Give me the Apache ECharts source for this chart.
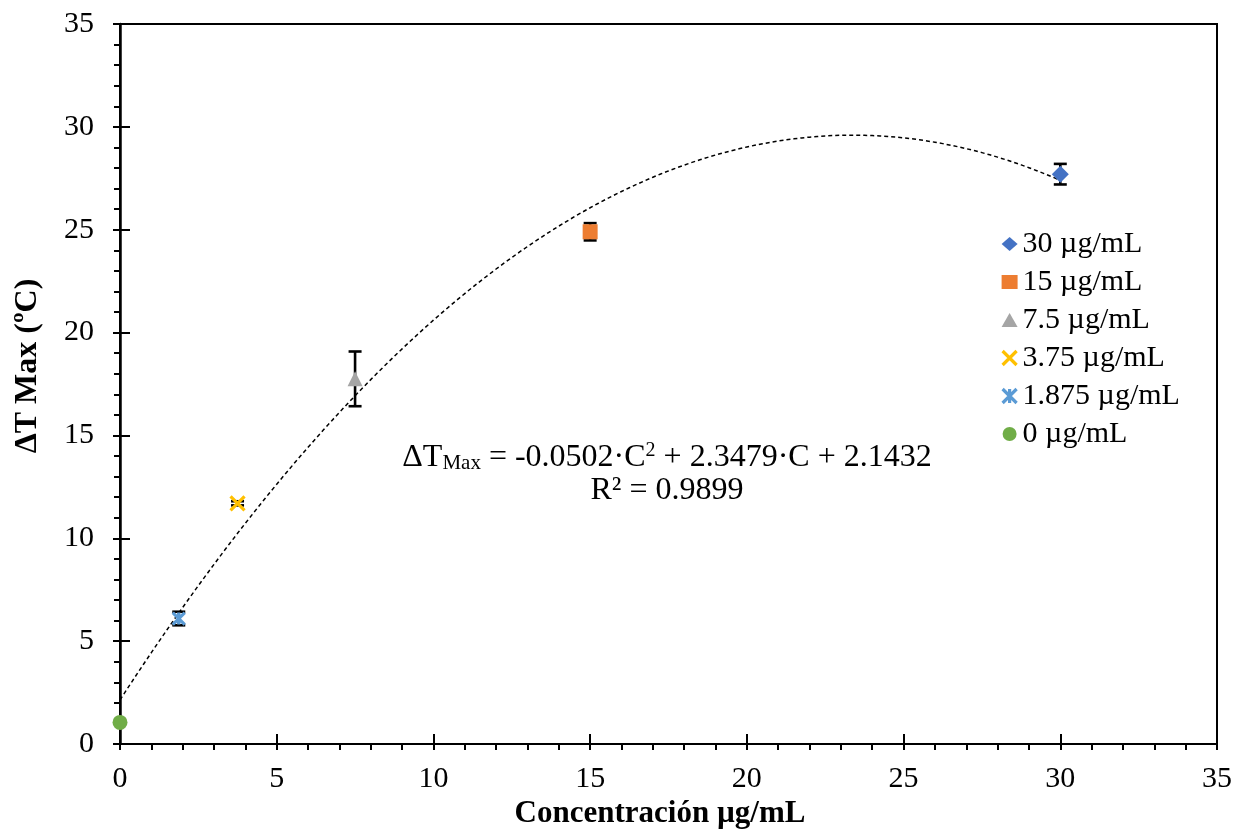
<!DOCTYPE html>
<html>
<head>
<meta charset="utf-8">
<script src="https://cdn.jsdelivr.net/npm/echarts@6/dist/echarts.min.js"></script>
<style>
  html, body { margin: 0; padding: 0; background: #fff; }
  #chart { width: 1241px; height: 832px; }
</style>
</head>
<body>
<div id="chart"></div>
<script>
// Concentrations (µg/mL) and measured maximum temperature rise
const seriesNames = ['30 µg/mL', '15 µg/mL', '7.5 µg/mL', '3.75 µg/mL', '1.875 µg/mL', '0 µg/mL'];
const concentrations = [30, 15, 7.5, 3.75, 1.875, 0];
const deltaTMax = [27.7, 24.9, 17.75, 11.7, 6.1, 1.05];
const deltaTErr = [0.5, 0.42, 1.33, 0.1, 0.33, 0];

// Quadratic fit coefficients: a·C² + b·C + c
const fitCoefs = [-0.0502, 2.3479, 2.1432];
const fitRange = [0, 30];

const xTicks = [0, 5, 10, 15, 20, 25, 30, 35];
const yTicks = [0, 5, 10, 15, 20, 25, 30, 35];

const colors = ['#4472C4', '#ED7D31', '#A5A5A5', '#FFC000', '#5B9BD5', '#70AD47'];
const SERIF = "'Liberation Serif', 'Times New Roman', serif";

const xPath = 'path://M0,0L10,10M10,0L0,10';
const starPath = 'path://M0,0L10,10M10,0L0,10M5,0L5,10';
const symbols = ['diamond', 'rect', 'triangle', xPath, starPath, 'circle'];
const symbolSizes = [17, 15, 15, 14, 12, 15];

// Fitted curve sampled along the concentration range
const fitPoints = [];
for (let c = fitRange[0]; c <= fitRange[1] + 1e-9; c += 0.25) {
  fitPoints.push([c, fitCoefs[0] * c * c + fitCoefs[1] * c + fitCoefs[2]]);
}

const chart = echarts.init(document.getElementById('chart'));

const isStroked = i => (i === 3 || i === 4);

const markerStyle = i => isStroked(i)
  ? { color: 'rgba(0,0,0,0)', borderColor: colors[i], borderWidth: 3.2, opacity: 1 }
  : { color: colors[i], opacity: 1 };

const scatterSeries = seriesNames.map((name, i) => ({
  name: name,
  type: 'scatter',
  xAxisIndex: 0,
  yAxisIndex: 0,
  symbol: symbols[i],
  symbolSize: symbolSizes[i],
  z: 5,
  itemStyle: markerStyle(i),
  data: [[concentrations[i], deltaTMax[i]]]
}));

const errorData = concentrations.map((c, i) => [c, deltaTMax[i] - deltaTErr[i], deltaTMax[i] + deltaTErr[i]]);

const axisCommon = {
  min: 0,
  max: 35,
  interval: 5,
  splitLine: { show: false }
};

const option = {
  animation: false,
  backgroundColor: '#fff',
  grid: {
    left: 120, right: 24, top: 24, bottom: 88,
    show: true, borderColor: '#000', borderWidth: 2, backgroundColor: 'transparent'
  },
  xAxis: [
    Object.assign({}, axisCommon, {
      type: 'value',
      position: 'bottom',
      axisLine: { show: true, onZero: false, lineStyle: { color: '#000', width: 2 } },
      axisTick: { show: true, inside: false, length: 6, lineStyle: { color: '#000', width: 2 } },
      minorTick: { show: true, splitNumber: 5, length: 6, lineStyle: { color: '#000', width: 2 } },
      axisLabel: {
        color: '#000', fontFamily: SERIF, fontSize: 30, margin: 20,
        customValues: xTicks
      }
    }),
    Object.assign({}, axisCommon, {
      type: 'value',
      position: 'bottom',
      axisLine: { show: false, onZero: false },
      axisTick: { show: true, inside: true, length: 10, lineStyle: { color: '#000', width: 2 } },
      axisLabel: { show: false }
    })
  ],
  yAxis: [
    Object.assign({}, axisCommon, {
      type: 'value',
      position: 'left',
      axisLine: { show: true, onZero: false, lineStyle: { color: '#000', width: 2.5 } },
      axisTick: { show: true, inside: false, length: 7, lineStyle: { color: '#000', width: 2 } },
      minorTick: { show: true, splitNumber: 5, length: 6, lineStyle: { color: '#000', width: 2 } },
      axisLabel: {
        color: '#000', fontFamily: SERIF, fontSize: 30, margin: 26,
        customValues: yTicks
      }
    }),
    Object.assign({}, axisCommon, {
      type: 'value',
      position: 'left',
      axisLine: { show: false, onZero: false },
      axisTick: { show: true, inside: true, length: 10, lineStyle: { color: '#000', width: 2 } },
      axisLabel: { show: false }
    })
  ],
  legend: {
    orient: 'vertical',
    left: 996,
    top: 224,
    itemWidth: 16,
    itemHeight: 14,
    itemGap: 8,
    data: seriesNames.map((name, i) => ({ name: name, itemStyle: markerStyle(i) })),
    textStyle: { color: '#000', fontFamily: SERIF, fontSize: 30, lineHeight: 30 }
  },
  series: [
    {
      name: 'fit',
      type: 'line',
      xAxisIndex: 0,
      yAxisIndex: 0,
      showSymbol: false,
      symbol: 'none',
      z: 2,
      silent: true,
      lineStyle: { color: '#000', width: 1.5, type: [4, 3] },
      data: fitPoints
    },
    {
      name: 'error',
      type: 'custom',
      xAxisIndex: 0,
      yAxisIndex: 0,
      z: 3,
      silent: true,
      data: errorData,
      renderItem: function (params, api) {
        const x = api.value(0);
        const lo = api.coord([x, api.value(1)]);
        const hi = api.coord([x, api.value(2)]);
        if (Math.abs(hi[1] - lo[1]) < 0.5) return { type: 'group', children: [] };
        const hw = 6.5;
        const st = { stroke: '#000', lineWidth: 2.6 };
        return {
          type: 'group',
          children: [
            { type: 'line', shape: { x1: lo[0], y1: lo[1], x2: hi[0], y2: hi[1] }, style: st },
            { type: 'line', shape: { x1: lo[0] - hw, y1: lo[1], x2: lo[0] + hw, y2: lo[1] }, style: st },
            { type: 'line', shape: { x1: hi[0] - hw, y1: hi[1], x2: hi[0] + hw, y2: hi[1] }, style: st }
          ]
        };
      }
    }
  ].concat(scatterSeries),
  graphic: [
    {
      type: 'text',
      x: 667,
      y: 474,
      style: {
        text: '{n|ΔT}{sub|Max}{n| = -0.0502·C}{sup|2}{n| + 2.3479·C + 2.1432}\n{n|R² = 0.9899}',
        align: 'center',
        verticalAlign: 'middle',
        fill: '#000',
        fontFamily: SERIF,
        fontSize: 32,
        rich: {
          n: { fontFamily: SERIF, fontSize: 32, lineHeight: 33, fill: '#000' },
          sub: { fontFamily: SERIF, fontSize: 21, lineHeight: 14, verticalAlign: 'bottom', fill: '#000' },
          sup: { fontFamily: SERIF, fontSize: 20, lineHeight: 14, verticalAlign: 'top', fill: '#000' }
        }
      }
    },
    {
      type: 'text',
      x: 28,
      y: 366,
      rotation: Math.PI / 2,
      style: {
        text: 'ΔT Max (ºC)',
        align: 'center',
        verticalAlign: 'middle',
        fill: '#000',
        fontFamily: SERIF,
        fontWeight: 'bold',
        fontSize: 32
      }
    },
    {
      type: 'text',
      x: 660,
      y: 814,
      style: {
        text: 'Concentración µg/mL',
        align: 'center',
        verticalAlign: 'middle',
        fill: '#000',
        fontFamily: SERIF,
        fontWeight: 'bold',
        fontSize: 31
      }
    }
  ]
};

chart.setOption(option);
</script>
</body>
</html>
